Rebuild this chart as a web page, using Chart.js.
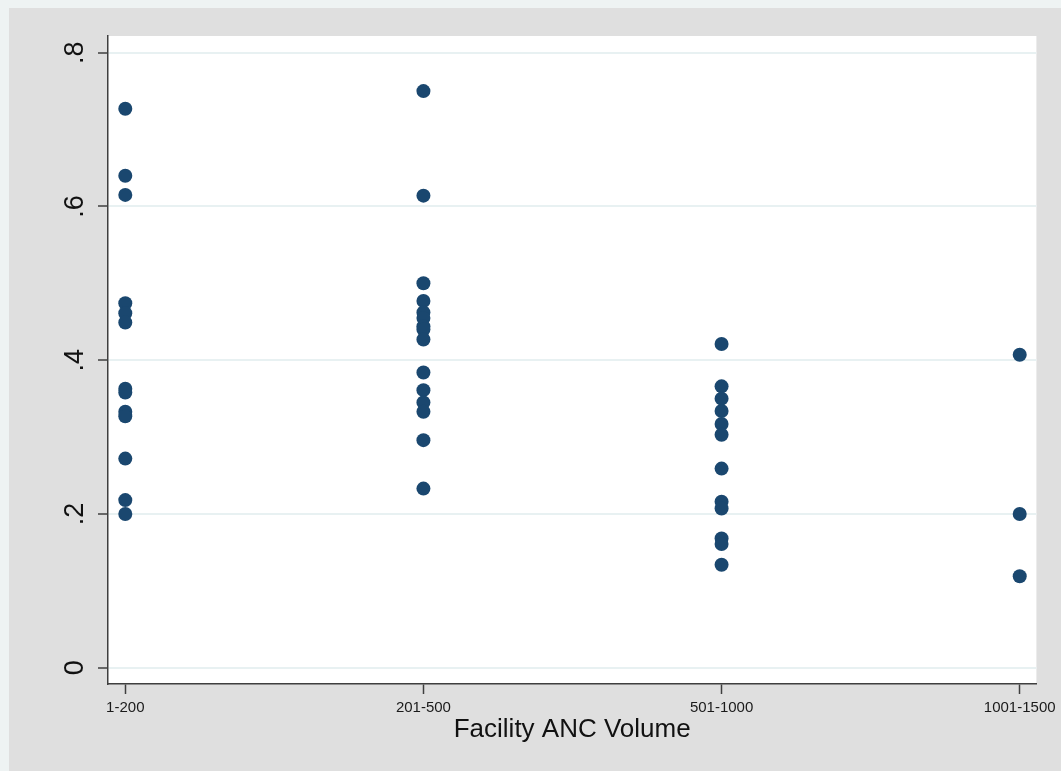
<!DOCTYPE html>
<html>
<head>
<meta charset="utf-8">
<script src="https://cdn.jsdelivr.net/npm/chart.js@4.4.1/dist/chart.umd.min.js"></script>
<style>
  html, body { margin: 0; padding: 0; background: #eef3f3; width: 1061px; height: 771px; overflow: hidden; }
  #wrap { position: absolute; left: 9px; top: 8px; width: 1052px; height: 763px; background: #dfdfdf; }
</style>
</head>
<body>
<div id="wrap"><canvas id="c"></canvas></div>
<script>
// Categories (x axis) and tick labels
const categories = ["1-200", "201-500", "501-1000", "1001-1500"];
const yTickValues = [0, 0.2, 0.4, 0.6, 0.8];
const yTickLabels = ["0", ".2", ".4", ".6", ".8"];
const xTitle = "Facility ANC Volume";

// Series values per category
const vol1to200 = [0.727, 0.640, 0.615, 0.474, 0.461, 0.449, 0.363, 0.358, 0.333, 0.327, 0.272, 0.218, 0.200];
const vol201to500 = [0.750, 0.614, 0.500, 0.477, 0.462, 0.455, 0.444, 0.440, 0.427, 0.384, 0.361, 0.345, 0.333, 0.296, 0.233];
const vol501to1000 = [0.421, 0.366, 0.350, 0.334, 0.317, 0.303, 0.259, 0.216, 0.207, 0.168, 0.161, 0.134];
const vol1001to1500 = [0.407, 0.200, 0.119];

const groups = [vol1to200, vol201to500, vol501to1000, vol1001to1500];
const points = [];
groups.forEach((vals, i) => vals.forEach(v => points.push({ x: i + 1, y: v })));

const plotBg = {
  id: 'plotBg',
  beforeDraw(chart) {
    const { ctx, chartArea: a } = chart;
    ctx.save();
    ctx.fillStyle = '#ffffff';
    ctx.fillRect(a.left, a.top, a.right - a.left, a.bottom - a.top);
    ctx.restore();
  }
};

const FONT = "'Liberation Sans', Arial, sans-serif";
const AXIS = '#3f3f3f';

new Chart(document.getElementById('c'), {
  type: 'scatter',
  data: {
    datasets: [{
      data: points,
      backgroundColor: '#1a476f',
      borderWidth: 0,
      pointRadius: 7,
      pointHoverRadius: 7
    }]
  },
  options: {
    responsive: true,
    maintainAspectRatio: false,
    animation: false,
    layout: { padding: { left: 0, right: 23.3, top: 28, bottom: 25.4 } },
    plugins: { legend: { display: false }, tooltip: { enabled: false } },
    scales: {
      x: {
        type: 'linear',
        min: 0.942,
        max: 4.056,
        afterBuildTicks: s => { s.ticks = categories.map((c, i) => ({ value: i + 1 })); },
        afterFit: s => { s.height = 61.6; },
        ticks: {
          callback: (v) => categories[Math.round(v) - 1],
          font: { family: FONT, size: 15 },
          color: '#1a1a1a',
          padding: 5,
          maxRotation: 0,
          minRotation: 0,
          autoSkip: false
        },
        grid: { drawOnChartArea: false, drawTicks: true, tickLength: 10, tickColor: AXIS, tickWidth: 1.5 },
        border: { display: true, color: AXIS, width: 1.5 },
        title: {
          display: true,
          text: xTitle,
          font: { family: FONT, size: 26 },
          color: '#111111',
          padding: { top: 0, bottom: 0 }
        }
      },
      y: {
        type: 'linear',
        min: -0.0212,
        max: 0.8217,
        afterBuildTicks: s => { s.ticks = yTickValues.map(v => ({ value: v })); },
        afterFit: s => { s.width = 99; },
        ticks: {
          callback: (v) => yTickLabels[yTickValues.findIndex(t => Math.abs(t - v) < 1e-6)],
          font: { family: FONT, size: 27 },
          color: '#111111',
          minRotation: 90,
          maxRotation: 90,
          crossAlign: 'center',
          padding: 11
        },
        grid: { color: '#e8f1f2', lineWidth: 2, drawTicks: true, tickLength: 10, tickColor: AXIS, tickWidth: 1.5 },
        border: { display: true, color: AXIS, width: 1.5 }
      }
    }
  },
  plugins: [plotBg]
});
</script>
</body>
</html>
